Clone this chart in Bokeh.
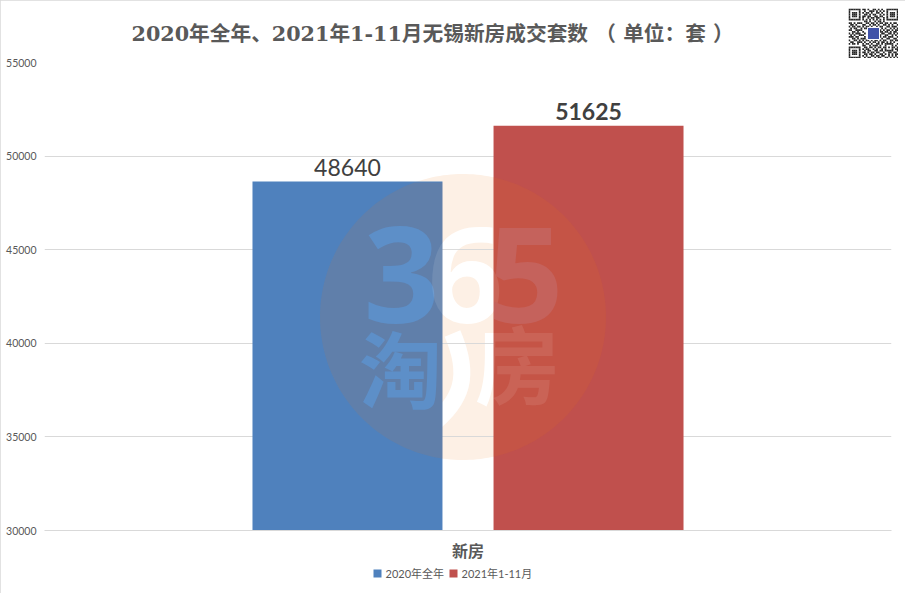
import numpy as np
from bokeh.core.properties import value
from bokeh.embed import file_html
from bokeh.models import ColumnDataSource, FactorRange, FixedTicker, Range1d
from bokeh.plotting import figure
from bokeh.resources import INLINE
from bokeh.transform import dodge

# ---- data
title_text = "2020年全年、2021年1-11月无锡新房成交套数 （ 单位：套 ）"
categories = ["新房"]
series_names = ["2020年全年", "2021年1-11月"]
values_2020 = [48640]
values_2021 = [51625]
y_ticks = [30000, 35000, 40000, 45000, 50000, 55000]
label_2020 = ["48640"]
label_2021 = ["51625"]

# ---- styles
BLUE, RED = "#4f81bd", "#c0504d"
GREY = "#595959"
GRID = "#d9d9d9"
CJK = "Noto Sans CJK SC"

p = figure(width=905, height=593, output_backend="svg", toolbar_location=None,
           x_range=FactorRange(factors=categories),
           y_range=Range1d(30000, 55000),
           min_border_left=44, min_border_right=14, min_border_top=62, min_border_bottom=63,
           border_fill_color="white", background_fill_color="white", outline_line_color=None,
           title=title_text)
p.styles = {"position": "absolute", "left": "0px", "top": "0px",
            "outline": f"1px solid {GRID}", "outline-offset": "-1px"}

# pixel-style helpers for the watermark only
p.extra_y_ranges["px"] = Range1d(530, 62)


def fx(px):
    return (np.asarray(px, dtype=float) - 44) / 847


p.title.text_font = f"DejaVu Serif, {CJK}"
p.title.text_font_size = "20.7px"
p.title.text_font_style = "bold"
p.title.text_color = GREY
p.title.align = "left"
p.title.offset = 87
p.title.standoff = 34

p.xgrid.visible = False
p.ygrid.grid_line_color = GRID
p.ygrid.grid_line_width = 1

ax = p.yaxis[0]
ax.ticker = FixedTicker(ticks=y_ticks)
ax.axis_line_color = None
ax.major_tick_line_color = None
ax.minor_tick_line_color = None
ax.major_tick_out = 0
ax.major_label_standoff = 8
ax.major_label_text_font = "Lato"
ax.major_label_text_font_size = "10.5px"
ax.major_label_text_color = GREY
ax.formatter.use_scientific = False

bx = p.xaxis[0]
bx.axis_line_color = GRID
bx.major_tick_line_color = None
bx.minor_tick_line_color = None
bx.major_tick_out = 0
bx.major_label_standoff = 7
bx.major_label_text_font = CJK
bx.major_label_text_font_size = "16px"
bx.major_label_text_font_style = "bold"
bx.major_label_text_color = GREY

# ---- watermark underlay (seen in the gap between the bars)
CX, CY, R = 462.5, 316.5, 143
PX = dict(y_range_name="px")
LOGO_FONT = "Open Sans"
t = np.linspace(0, 2 * np.pi, 240)
cxs, cys = CX + R * np.cos(t), CY + R * np.sin(t)
p.patch(fx(cxs), cys, fill_color="#fdf0e5", line_color=None, level="image", **PX)
for ch, x, y, size, font in [("6", 465, 275, 133, LOGO_FONT), ("房", 517, 360, 85, CJK)]:
    p.text(x=[float(fx(x))], y=[y], text=[ch], text_color="white", text_font=value(font),
           text_font_size=f"{size}px", text_font_style="bold", text_align="center",
           text_baseline="middle", level="image", **PX)
p.bezier(x0=[float(fx(452))], y0=[333], x1=[float(fx(430))], y1=[425],
         cx0=[float(fx(470))], cy0=[375], cx1=[float(fx(462))], cy1=[400],
         line_color="white", line_width=17, level="image", **PX)

# ---- bars
src = ColumnDataSource(dict(cat=categories, a=values_2020, b=values_2021,
                            la=label_2020, lb=label_2021))
OFF, W = 0.1423, 0.2243
p.vbar(x=dodge("cat", -OFF, range=p.x_range), top="a", bottom=30000, width=W,
       source=src, fill_color=BLUE, line_color=None)
p.vbar(x=dodge("cat", OFF, range=p.x_range), top="b", bottom=30000, width=W,
       source=src, fill_color=RED, line_color=None)

# ---- watermark over the bars: circle clipped to each bar
p.patch(fx(np.clip(cxs, 252, 442)), np.maximum(cys, 182), fill_color="#ec7612", fill_alpha=0.11,
        line_color=None, **PX)
p.patch(fx(np.clip(cxs, 493, 683)), np.maximum(cys, 126), fill_color="#ec7612", fill_alpha=0.11,
        line_color=None, **PX)
for ch, x, y, size, font, col, alpha in [
    ("3", 401, 275, 133, LOGO_FONT, "#5d8fc8", 1.0),
    ("6", 465, 275, 133, LOGO_FONT, "white", 0.1),
    ("5", 525, 275, 133, LOGO_FONT, "#c5625c", 1.0),
    ("淘", 400, 365, 83, CJK, "#5d8fc8", 1.0),
    ("房", 517, 360, 85, CJK, "white", 0.09),
]:
    p.text(x=[float(fx(x))], y=[y], text=[ch], text_color=col, text_alpha=alpha,
           text_font=value(font), text_font_size=f"{size}px", text_font_style="bold",
           text_align="center", text_baseline="middle", **PX)

# ---- data labels
p.text(x=dodge("cat", -OFF, range=p.x_range), y="a", text="la", source=src, text_color="#404040",
       text_font=value("Lato"), text_font_size="23px", text_align="center",
       text_baseline="alphabetic", y_offset=-14)
p.text(x=dodge("cat", OFF, range=p.x_range), y="b", text="lb", source=src, text_color="#404040",
       text_font=value("Lato"), text_font_size="23px", text_font_style="bold", text_align="center",
       text_baseline="alphabetic", y_offset=-14)

# ---- legend, a small figure of its own under the axis
lg = figure(width=175, height=16, output_backend="svg", toolbar_location=None,
            x_range=Range1d(365, 540), y_range=Range1d(16, 0), min_border=0,
            outline_line_color=None, border_fill_color="white", background_fill_color="white")
lg.axis.visible = False
lg.grid.visible = False
lg.rect(x=[377, 453], y=[8, 8], width=8, height=8, fill_color=[BLUE, RED], line_color=None)
lg.text(x=[385, 461], y=[8, 8], text=series_names, text_color=GREY,
        text_font=value(f"Lato, {CJK}"), text_font_size="11px",
        text_align="left", text_baseline="middle")
lg.styles = {"position": "absolute", "left": "365px", "top": "565px"}

# ---- QR badge (decorative), a small figure of its own above the chart's corner
qr = [
    "11111110110100110101001111111",
    "10000010010011101010101000001",
    "10111010101101001101001011101",
    "10111010011010110010101011101",
    "10111010110110011011001011101",
    "10000010100101101100101000001",
    "11111110101010101010101111111",
    "00000000011010010110100000000",
    "11010111001101101011011010110",
    "01101000110010110100110101001",
    "10110110101101001011001101110",
    "01011001011011011101010010101",
    "11001111000000000110101101011",
    "00110100100000000011011010110",
    "10101110010000000101100110101",
    "01010011100000000110011001010",
    "11101100010000000010110111001",
    "00110101110000000101001100110",
    "10011010101101011010110011011",
    "01100111010010110101101010100",
    "10110100101101001101011111001",
    "00000000110010111010010001010",
    "11111110011011010110110101101",
    "10000010101100101001010001011",
    "10111010010110011011011111001",
    "10111010110101101100100110110",
    "10111010011011010011010101011",
    "10000010101001101101100101010",
    "11111110010110010110011010101",
]
qx = [i + 0.5 for row in qr for i, c in enumerate(row) if c == "1"]
qy = [j + 0.5 for j, row in enumerate(qr) for c in row if c == "1"]
q = figure(width=50, height=50, output_backend="svg", toolbar_location=None,
           x_range=Range1d(0, 29), y_range=Range1d(29, 0), min_border=0,
           outline_line_color=None, border_fill_color="white")
q.axis.visible = False
q.grid.visible = False
q.rect(x=qx, y=qy, width=1.02, height=1.02, fill_color="#262626", line_color=None)
q.rect(x=[14.5], y=[14.5], width=7, height=7, fill_color="#3f51a8", line_color="white")
q.styles = {"position": "absolute", "left": "848px", "top": "8px"}

open("out.html", "w").write(file_html([p, lg, q], INLINE))
